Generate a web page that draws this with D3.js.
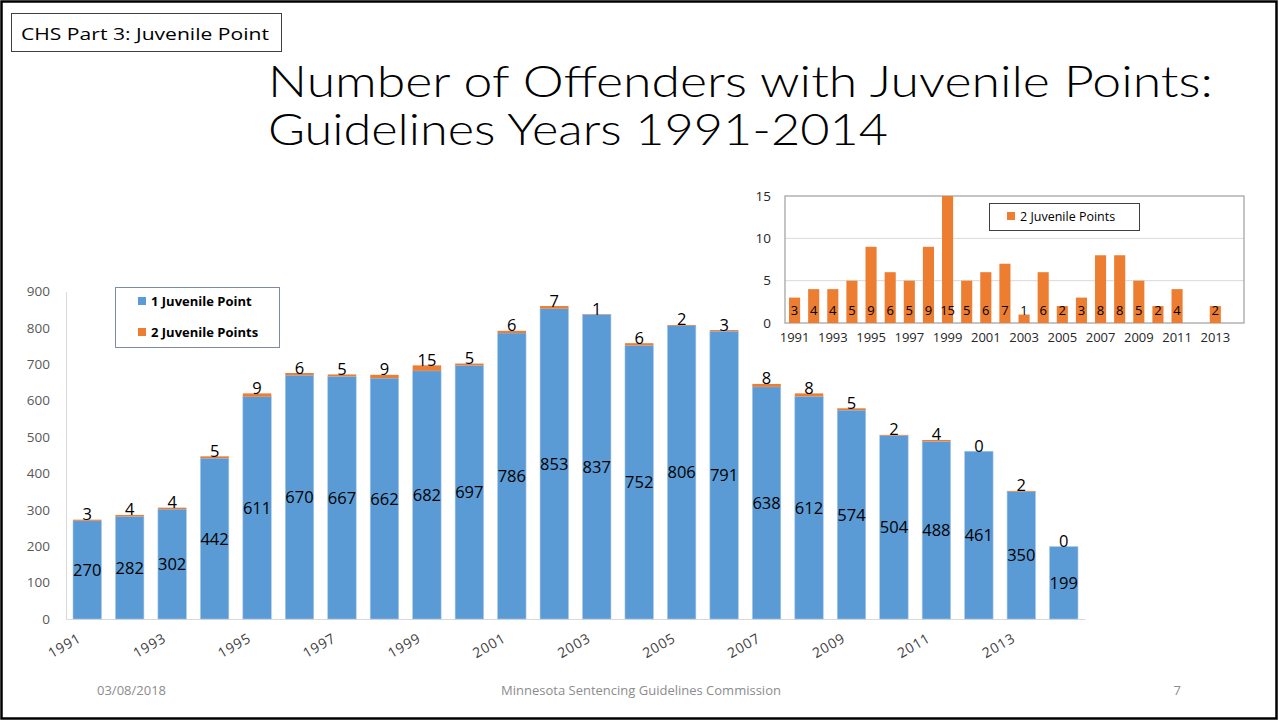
<!DOCTYPE html>
<html>
<head>
<meta charset="utf-8">
<script src="https://cdn.jsdelivr.net/npm/d3@7"></script>
<style>
  body { margin: 0; background: #fff; }
  svg { display: block; font-family: "Open Sans", sans-serif; }
</style>
</head>
<body>
<div id="slide"></div>
<script>
// data
const years = d3.range(1991, 2015).map(String);
const onePoint = [270, 282, 302, 442, 611, 670, 667, 662, 682, 697, 786, 853, 837, 752, 806, 791, 638, 612, 574, 504, 488, 461, 350, 199];
const twoPoints = [3, 4, 4, 5, 9, 6, 5, 9, 15, 5, 6, 7, 1, 6, 2, 3, 8, 8, 5, 2, 4, 0, 2, 0];
const mainTicks = [0, 100, 200, 300, 400, 500, 600, 700, 800, 900];
const insetTicks = [0, 5, 10, 15];
const shownYears = years.filter((d, i) => i % 2 === 0);

const blue = "#5b9bd5", orange = "#ed7d31";

let svg = d3.select("#slide")
    .append("svg")
    .attr("width", 1279)
    .attr("height", 721);

// slide frame
svg.append("rect")
    .attr("x", 1.5).attr("y", 1.5)
    .attr("width", 1275).attr("height", 717)
    .attr("fill", "none").attr("stroke", "#000").attr("stroke-width", 2.5);

// section tag
svg.append("rect")
    .attr("x", 11.5).attr("y", 13.5)
    .attr("width", 270).attr("height", 38)
    .attr("fill", "none").attr("stroke", "#404040").attr("stroke-width", 1);
svg.append("text")
    .attr("x", 21).attr("y", 40)
    .attr("font-size", "17px")
    .attr("textLength", 248).attr("lengthAdjust", "spacingAndGlyphs")
    .text("CHS Part 3: Juvenile Point");

// title
let title = svg.append("g")
    .attr("font-family", "Lato, 'Open Sans', sans-serif")
    .attr("font-size", "44px").attr("font-weight", 300);
title.append("text")
    .attr("x", 268).attr("y", 97)
    .attr("textLength", 945).attr("lengthAdjust", "spacingAndGlyphs")
    .text("Number of Offenders with Juvenile Points:");
title.append("text")
    .attr("x", 268).attr("y", 145)
    .attr("textLength", 620).attr("lengthAdjust", "spacingAndGlyphs")
    .text("Guidelines Years 1991-2014");

// ---------- main stacked chart ----------
let x = d3.scaleBand()
    .domain(years)
    .range([66, 1085])
    .paddingInner(0.33)
    .paddingOuter(0.165);

let y = d3.scaleLinear()
    .domain([0, 900])
    .range([619, 291.5]);

let main = svg.append("g");

// y axis labels and line
main.append("g")
    .attr("transform", "translate(66,0)")
    .call(d3.axisLeft(y).tickValues(mainTicks).tickSize(0).tickPadding(16))
    .call(g => g.select(".domain").attr("stroke", "#d9d9d9"))
    .call(g => g.selectAll("text")
        .attr("font-family", "Open Sans").attr("font-size", "13.5px").attr("fill", "#595959"));

// x axis
let xAxis = main.append("g")
    .attr("transform", "translate(0,619)")
    .call(d3.axisBottom(x).tickValues(shownYears).tickSize(0).tickFormat(d => d));
xAxis.select(".domain").attr("stroke", "#d9d9d9");
xAxis.selectAll("text")
    .attr("font-family", "Open Sans").attr("font-size", "14px").attr("fill", "#404040")
    .attr("letter-spacing", "0.8px")
    .attr("text-anchor", "end")
    .attr("dy", null).attr("y", 0)
    .attr("transform", "translate(-5,22) rotate(-30)");

let rows = years.map((d, i) => ({ year: d, one: onePoint[i], two: twoPoints[i] }));

main.selectAll(".barOne")
    .data(rows)
    .enter()
    .append("rect")
    .attr("x", d => x(d.year))
    .attr("width", x.bandwidth())
    .attr("y", d => y(d.one))
    .attr("height", d => y(0) - y(d.one))
    .attr("fill", blue)
    .attr("stroke", "#a9c9ea").attr("stroke-width", 0.6);

main.selectAll(".barTwo")
    .data(rows)
    .enter()
    .append("rect")
    .attr("x", d => x(d.year))
    .attr("width", x.bandwidth())
    .attr("y", d => y(d.one + d.two))
    .attr("height", d => y(d.one) - y(d.one + d.two))
    .attr("fill", orange);

main.selectAll(".labOne")
    .data(rows)
    .enter()
    .append("text")
    .attr("x", d => x(d.year) + x.bandwidth() / 2)
    .attr("y", d => (y(0) + y(d.one)) / 2 + 6)
    .attr("text-anchor", "middle")
    .attr("font-size", "16.5px").attr("fill", "#000")
    .text(d => d.one);

main.selectAll(".labTwo")
    .data(rows)
    .enter()
    .append("text")
    .attr("x", d => x(d.year) + x.bandwidth() / 2)
    .attr("y", d => y(d.one + d.two) + 0.5)
    .attr("text-anchor", "middle")
    .attr("font-size", "16.5px").attr("fill", "#000")
    .text(d => d.two);

// main legend
let legend = main.append("g");
legend.append("rect")
    .attr("x", 115.5).attr("y", 287.5)
    .attr("width", 164).attr("height", 60)
    .attr("fill", "#fff").attr("stroke", "#7f8ba0").attr("stroke-width", 1);
[["1 Juvenile Point", blue], ["2 Juvenile Points", orange]].forEach((item, i) => {
    legend.append("rect")
        .attr("x", 138).attr("y", 297 + i * 31)
        .attr("width", 8).attr("height", 8)
        .attr("fill", item[1]);
    legend.append("text")
        .attr("x", 151).attr("y", 305.5 + i * 31)
        .attr("font-size", "13px").attr("font-weight", "bold")
        .text(item[0]);
});

// ---------- inset chart ----------
let xi = d3.scaleBand()
    .domain(years)
    .range([785, 1244])
    .paddingInner(0.42)
    .paddingOuter(0.21);

let yi = d3.scaleLinear()
    .domain([0, 15])
    .range([323, 196]);

let inset = svg.append("g");

inset.append("g")
    .selectAll("line")
    .data(insetTicks.slice(1, 3))
    .enter()
    .append("line")
    .attr("x1", 785).attr("x2", 1244)
    .attr("y1", d => yi(d)).attr("y2", d => yi(d))
    .attr("stroke", "#d9d9d9");

inset.append("rect")
    .attr("x", 785).attr("y", yi(15))
    .attr("width", 1244 - 785).attr("height", yi(0) - yi(15))
    .attr("fill", "none").attr("stroke", "#a6a6a6").attr("stroke-width", 1.3);

inset.append("g")
    .attr("transform", "translate(785,0)")
    .call(d3.axisLeft(yi).tickValues(insetTicks).tickSize(0).tickPadding(14))
    .call(g => g.select(".domain").remove())
    .call(g => g.selectAll("text")
        .attr("font-family", "Open Sans").attr("font-size", "13.5px").attr("fill", "#262626"));

inset.append("g")
    .attr("transform", "translate(0,323)")
    .call(d3.axisBottom(xi).tickValues(shownYears).tickSize(0).tickPadding(10))
    .call(g => g.select(".domain").remove())
    .call(g => g.selectAll("text")
        .attr("font-family", "Open Sans").attr("font-size", "13px").attr("fill", "#262626"));

inset.selectAll(".barIn")
    .data(rows.filter(d => d.two > 0))
    .enter()
    .append("rect")
    .attr("x", d => xi(d.year))
    .attr("width", xi.bandwidth())
    .attr("y", d => yi(d.two))
    .attr("height", d => yi(0) - yi(d.two))
    .attr("fill", orange);

inset.selectAll(".labIn")
    .data(rows.filter(d => d.two > 0))
    .enter()
    .append("text")
    .attr("x", d => xi(d.year) + xi.bandwidth() / 2)
    .attr("y", 315)
    .attr("text-anchor", "middle")
    .attr("font-size", "13px").attr("fill", "#000")
    .text(d => d.two);

inset.append("rect")
    .attr("x", 989.5).attr("y", 203.5)
    .attr("width", 150).attr("height", 27)
    .attr("fill", "#fff").attr("stroke", "#404040").attr("stroke-width", 1);
inset.append("rect")
    .attr("x", 1007).attr("y", 212)
    .attr("width", 8).attr("height", 8)
    .attr("fill", orange);
inset.append("text")
    .attr("x", 1020).attr("y", 221)
    .attr("font-size", "12.5px")
    .text("2 Juvenile Points");

// footer
let footer = svg.append("g")
    .attr("font-size", "13px").attr("fill", "#8c8c8c");
footer.append("text").attr("x", 97).attr("y", 695).text("03/08/2018");
footer.append("text").attr("x", 641).attr("y", 695).attr("text-anchor", "middle")
    .text("Minnesota Sentencing Guidelines Commission");
footer.append("text").attr("x", 1181).attr("y", 695).attr("text-anchor", "end").text("7");
</script>
</body>
</html>
